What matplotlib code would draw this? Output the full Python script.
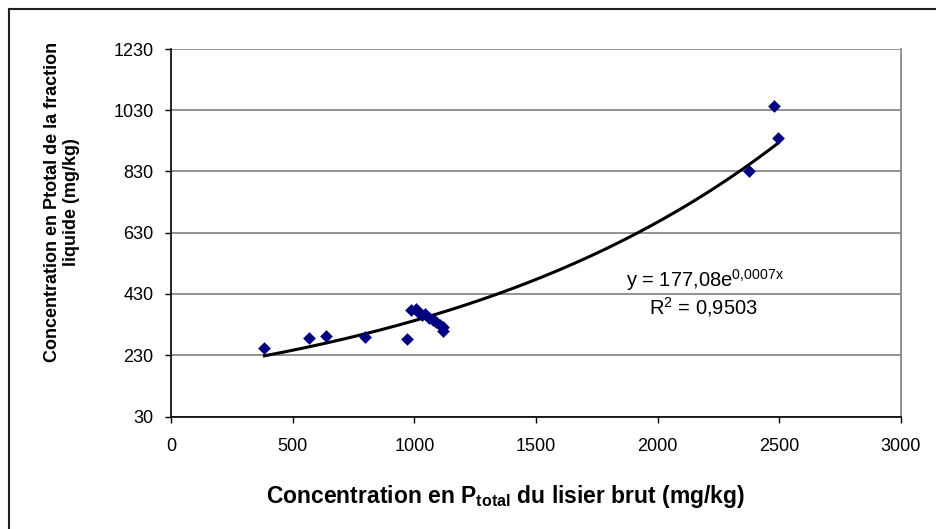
import numpy as np
import matplotlib.pyplot as plt
from matplotlib.lines import Line2D

plt.rcParams['font.family'] = ['Liberation Sans', 'DejaVu Sans']
plt.rcParams['mathtext.fontset'] = 'custom'
plt.rcParams['mathtext.rm'] = 'Liberation Sans'
plt.rcParams['mathtext.it'] = 'Liberation Sans'
plt.rcParams['mathtext.bf'] = 'Liberation Sans:bold'

# P total lisier brut (x) vs fraction liquide (y), mg/kg
p_brut = [384, 567, 639, 796, 971, 988, 1005, 1015, 1030, 1045, 1060,
          1075, 1090, 1105, 1116, 1118, 2377, 2477, 2495]
p_liquide = [254, 286, 294, 290, 284, 378, 381, 372, 360, 365, 352,
             345, 340, 330, 322, 308, 830, 1044, 939]

x_ticks = [0, 500, 1000, 1500, 2000, 2500, 3000]
y_ticks = [30, 230, 430, 630, 830, 1030, 1230]

x = np.array(p_brut, dtype=float)
y = np.array(p_liquide, dtype=float)

# courbe de tendance exponentielle (comme Excel : ln y = ln a + b x)
b, ln_a = np.polyfit(x, np.log(y), 1)
xs = np.linspace(x.min(), x.max(), 200)
ys = np.exp(ln_a) * np.exp(b * xs)

fig = plt.figure(figsize=(9.37, 5.29), dpi=100)
ax = fig.add_axes([171 / 937, 1 - 416.5 / 529, 730 / 937, 367.5 / 529])

ax.yaxis.grid(True, color='#808080', linewidth=1.2)
ax.set_axisbelow(True)
ax.plot(xs, ys, color='black', linewidth=2.2, zorder=3)
ax.scatter(x, y, marker='D', s=42, color='#000080', zorder=4, linewidths=0)

ax.set_xlim(0, 3000)
ax.set_ylim(30, 1230)
ax.set_xticks(x_ticks)
ax.set_yticks(y_ticks)
ax.tick_params(direction='out', length=4.5, width=1, labelsize=13)
ax.tick_params(axis='x', pad=11)
ax.tick_params(axis='y', pad=8)

ax.spines['top'].set_visible(False)
ax.spines['right'].set_color('#808080')
ax.spines['right'].set_linewidth(1.2)
for side in ['left', 'bottom']:
    ax.spines[side].set_linewidth(1.2)

ax.set_xlabel(r'Concentration en P$_{\mathbf{total}}$ du lisier brut (mg/kg)',
              fontsize=16.5, fontweight='bold', va='center')
ax.xaxis.set_label_coords((506 - 171) / 730, -(497 - 416.5) / 367.5)
ax.set_ylabel('Concentration en Ptotal de la fraction\nliquide (mg/kg)',
              fontsize=13, fontweight='bold', va='center')
ax.yaxis.set_label_coords((62 - 171) / 730, (416.5 - 202) / 367.5)

ax.text(2194, 476, r'y = 177,08e$^{\mathrm{0{,}0007x}}$', fontsize=14.5, ha='center', va='center')
ax.text(2186, 389, 'R$^{2}$ = 0,9503', fontsize=14.5, ha='center', va='center')

# cadre du graphique (coupé à droite et en bas)
fig.add_artist(Line2D([9 / 937, 1], [1 - 9 / 529, 1 - 9 / 529], color='#202020', linewidth=1.5))
fig.add_artist(Line2D([9 / 937, 9 / 937], [0, 1 - 9 / 529], color='#202020', linewidth=1.5))

fig.savefig('out.png', dpi=100)
